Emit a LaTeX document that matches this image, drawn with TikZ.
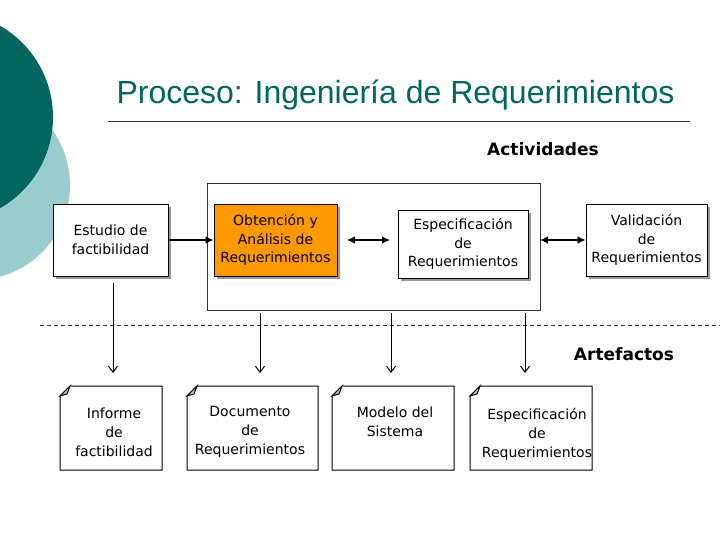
\documentclass[tikz,border=0pt]{standalone}
\usepackage{fontspec}
\setmainfont{DejaVu Sans}
\newfontfamily\titlefont{Liberation Sans}
\usetikzlibrary{arrows.meta,shadows}
\definecolor{teal1}{HTML}{00665E}
\definecolor{teal2}{HTML}{99CCCC}
\definecolor{org}{HTML}{FF9900}
\tikzset{
 every path/.style={line width=1pt},
 proc/.style={draw=black,line width=1pt,fill=white,minimum width=115pt,minimum height=72pt,align=center,inner sep=1pt,font=\fontsize{14}{18.5}\selectfont,drop shadow={shadow xshift=2.5pt,shadow yshift=-2.5pt,fill=gray!80,opacity=1}},
 doc/.style={font=\fontsize{14}{19}\selectfont,align=center},
 varrow/.style={draw=black,line width=1pt,-{Straight Barb[length=6pt,width=9pt]}},
 barrow/.style={line width=2.2pt,-{Latex[length=8pt,width=8pt]}},
}
\begin{document}
\begin{tikzpicture}[x=1pt,y=-1pt]
\useasboundingbox (0,0) rectangle (728,546);
\fill[teal2] (-25,185) circle (95);
\fill[teal1] (-52,117) circle (105);
\node[text=teal1,font=\titlefont\fontsize{32}{34}\selectfont,anchor=west,inner sep=0pt] (title) at (116,95) {Proceso: Ingeniería de Requerimientos};
\draw[black!80] (108,121) -- (690,121);
\node[font=\bfseries\fontsize{17}{19}\selectfont] (act) at (543,149) {Actividades};
\node[font=\bfseries\fontsize{17}{19}\selectfont] (art) at (624,354) {Artefactos};
\node[draw=black!80,line width=1pt,minimum width=333pt,minimum height=127pt] (cont) at (373.5,246.5) {};
\node[proc,minimum width=115pt] (est) at (110.5,240) {Estudio de\\factibilidad};
\node[proc,fill=org,minimum width=123pt] (obt) at (275.5,240) {Obtención y\\Análisis de\\Requerimientos};
\node[proc,minimum width=130pt,minimum height=68pt] (esp) at (463,244) {Especificación\\de\\Requerimientos};
\node[proc,minimum width=121pt] (val) at (646.5,240) {Validación\\de\\Requerimientos};
\coordinate (l1) at (347,240); \coordinate (r1) at (390,240); \coordinate (l2) at (540,240);
\draw[barrow] (est.east) -- (obt.west);
\draw[barrow,{Latex[length=8pt,width=8pt]}-{Latex[length=8pt,width=8pt]}] (l1) -- (r1);
\draw[barrow,{Latex[length=8pt,width=8pt]}-{Latex[length=8pt,width=8pt]}] (l2) -- (val.west);
\draw[dashed,black!80,dash pattern=on 4pt off 3pt] (40,325) -- (720,325);
\foreach \xa/\xb in {60/162,187/318,332/454,470/592}{
 \draw[black,fill=white] (\xa+10,386) -- (\xb,386) -- (\xb,470) -- (\xa,470) -- (\xa,396) -- cycle;
 \fill[gray!50,draw=black] (\xa,396) -- (\xa+10,386) -- (\xa+7,394) -- cycle;
}
\node[doc] (t1) at (114,432) {Informe\\de\\factibilidad};
\node[doc] (t2) at (250,432) {Documento\\de\\Requerimientos};
\node[doc] (t3) at (395,422) {Modelo del\\Sistema};
\node[doc] (t4) at (537,434) {Especificación\\de\\Requerimientos};
\coordinate (a1) at (113,283); \coordinate (b1) at (113,373);
\coordinate (a2) at (260,313); \coordinate (b2) at (260,373);
\coordinate (a3) at (391,313); \coordinate (b3) at (391,373);
\coordinate (a4) at (525,313); \coordinate (b4) at (525,373);
\foreach \i in {1,2,3,4} \draw[varrow] (a\i) -- (b\i);
\end{tikzpicture}
\end{document}
